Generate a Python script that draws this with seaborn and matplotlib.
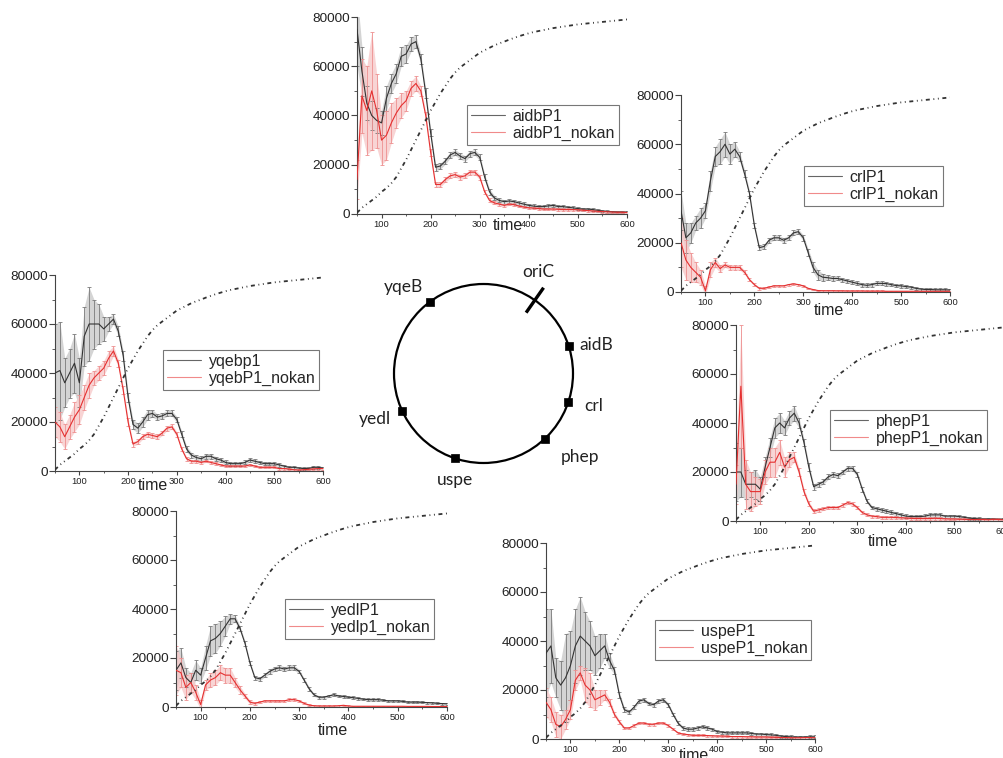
import matplotlib
matplotlib.use("Agg")
import matplotlib.pyplot as plt
import seaborn as sns
from matplotlib.patches import Circle
from matplotlib.ticker import MultipleLocator
import numpy as np

# ---- data ----
time = [50, 60, 70, 80, 90, 100, 110, 120, 130, 140,
        150, 160, 170, 180, 190, 200, 210, 220, 230, 240,
        250, 260, 270, 280, 290, 300, 310, 320, 330, 340,
        350, 360, 370, 380, 390, 400, 410, 420, 430, 440,
        450, 460, 470, 480, 490, 500, 510, 520, 530, 540,
        550, 560, 570, 580, 590, 600]

growth = [500, 2500, 4000, 5500, 7000, 9000, 10500, 12500, 15000, 18500,
          22000, 26000, 30000, 34000, 38000, 42000, 45500, 49000, 52000, 55000,
          57500, 59500, 61000, 62500, 64000, 65500, 66500, 67500, 68500, 69300,
          70000, 70800, 71500, 72200, 72800, 73400, 73900, 74300, 74700, 75100,
          75500, 75800, 76100, 76400, 76700, 77000, 77200, 77400, 77600, 77800,
          78000, 78200, 78400, 78600, 78800, 79000]

aidb_mean = [75000, 58000, 45000, 40000, 38000, 37000, 47000, 53000, 57000, 64000,
             65000, 69000, 70000, 63000, 49000, 33000, 19000, 19500, 21500, 24000,
             25000, 23500, 22500, 24500, 25000, 23000, 15000, 9000, 6500, 5500,
             5000, 5300, 5000, 4500, 4000, 3500, 3200, 3000, 3000, 3300,
             3500, 3000, 3000, 2700, 2500, 2200, 2000, 2000, 1800, 1500,
             1200, 1000, 900, 800, 800, 700]
aidb_err = [15000, 10000, 7000, 6000, 5000, 5000, 5000, 4000, 4000, 4000,
            3500, 3000, 2500, 2000, 2000, 1500, 1500, 1200, 1200, 1200,
            1200, 1200, 1200, 1200, 1200, 1200, 1200, 1200, 1000, 800,
            800, 800, 800, 800, 700, 700, 700, 700, 700, 700,
            700, 700, 600, 600, 600, 600, 600, 500, 500, 500,
            500, 500, 500, 500, 500, 500]
aidb_nokan_mean = [14000, 48000, 42000, 50000, 42000, 30000, 32000, 37000, 41000, 44000,
                   46000, 51000, 53000, 50000, 40000, 25000, 12000, 12000, 14000, 15500,
                   16000, 15000, 15500, 17000, 17000, 15000, 9000, 5500, 4500, 4000,
                   3500, 4000, 3800, 3200, 2800, 2500, 2400, 2200, 2000, 2000,
                   2000, 1900, 1800, 1800, 1800, 1700, 1500, 1400, 1200, 1100,
                   1000, 900, 800, 700, 700, 600]
aidb_nokan_err = [8000, 15000, 18000, 24000, 15000, 10000, 10000, 8000, 6000, 5000,
                  4000, 3000, 3000, 2000, 1500, 1500, 1000, 1000, 1000, 1000,
                  1000, 1000, 1000, 1000, 1000, 1000, 800, 800, 600, 600,
                  600, 500, 500, 500, 500, 500, 500, 500, 500, 500,
                  500, 500, 500, 500, 400, 400, 400, 400, 400, 400,
                  400, 400, 400, 400, 400, 400]

crl_mean = [33000, 22000, 24000, 28000, 30000, 33000, 45000, 55000, 57000, 60000,
            56000, 58000, 55000, 48000, 40000, 27000, 18000, 18500, 21000, 22000,
            22000, 21000, 22000, 24000, 24500, 22000, 16000, 10000, 7000, 6000,
            5800, 5500, 5500, 5000, 4500, 4000, 3500, 3000, 2700, 3000,
            3500, 3500, 3400, 3000, 2600, 2500, 2200, 2000, 1500, 1200,
            1000, 1000, 900, 900, 900, 800]
crl_err = [8000, 6000, 4000, 3000, 4000, 3000, 4000, 4000, 5000, 5000,
           4000, 3000, 2000, 1500, 1200, 1200, 1000, 1000, 1000, 1000,
           1000, 1000, 1000, 1000, 1000, 1200, 1500, 2000, 2000, 1500,
           1000, 1000, 800, 800, 800, 800, 800, 800, 800, 800,
           800, 800, 800, 700, 700, 700, 700, 600, 600, 600,
           600, 600, 600, 600, 600, 600]
crl_nokan_mean = [20000, 13000, 10000, 8000, 6000, 500, 9000, 12000, 9500, 11000,
                  10000, 10000, 10000, 8000, 5000, 3000, 1500, 1500, 2000, 2500,
                  2500, 2500, 3000, 3300, 3000, 2500, 1500, 1000, 600, 500,
                  500, 500, 450, 450, 400, 400, 400, 400, 350, 350,
                  350, 350, 300, 300, 300, 300, 300, 300, 300, 300,
                  300, 300, 300, 300, 300, 300]
crl_nokan_err = [10000, 8000, 6000, 4000, 3000, 2000, 3000, 2000, 1500, 1000,
                 1000, 1000, 1000, 800, 600, 500, 500, 400, 400, 400,
                 400, 400, 400, 400, 400, 400, 300, 300, 300, 300,
                 300, 300, 300, 300, 300, 300, 300, 300, 300, 300,
                 300, 300, 300, 300, 300, 300, 300, 300, 300, 300,
                 300, 300, 300, 300, 300, 300]

yqeb_mean = [40000, 41000, 36000, 40000, 44000, 36000, 55000, 60000, 60000, 60000,
             58000, 60000, 62000, 57000, 47000, 30000, 19000, 17500, 20000, 23000,
             23500, 22000, 22500, 23500, 23500, 21000, 15000, 9000, 6500, 5500,
             5000, 6000, 6000, 5000, 4500, 3500, 3000, 3000, 3000, 3500,
             4500, 4000, 3500, 3000, 3000, 3000, 2500, 2000, 1500, 1500,
             1200, 1000, 1000, 1500, 1500, 1200]
yqeb_err = [20000, 20000, 10000, 10000, 12000, 10000, 12000, 15000, 10000, 8000,
            5000, 3000, 2000, 2000, 2000, 2000, 2000, 2000, 2000, 2000,
            1500, 1200, 1200, 1200, 1200, 1200, 1200, 1200, 1000, 1000,
            1000, 1000, 900, 900, 800, 800, 800, 800, 800, 800,
            800, 800, 700, 700, 700, 700, 700, 600, 600, 600,
            600, 600, 600, 600, 600, 600]
yqeb_nokan_mean = [20000, 18000, 14000, 18000, 22000, 25000, 30000, 35000, 38000, 40000,
                   42000, 46000, 49000, 44000, 33000, 20000, 11000, 12000, 14000, 15000,
                   14500, 14000, 15500, 17500, 18000, 15000, 9000, 5000, 4000, 4000,
                   3500, 4000, 3500, 3000, 2500, 2000, 2000, 2000, 2000, 2000,
                   2500, 2000, 1500, 1500, 1500, 1500, 1000, 1000, 800, 500,
                   400, 500, 700, 800, 1000, 1000]
yqeb_nokan_err = [6000, 6000, 5000, 5000, 6000, 6000, 5000, 5000, 3000, 3000,
                  3000, 3000, 2000, 1500, 1500, 1500, 1000, 1000, 1000, 1000,
                  1000, 1000, 1000, 1000, 1000, 1000, 800, 800, 600, 600,
                  500, 500, 500, 500, 500, 500, 500, 500, 500, 500,
                  500, 500, 400, 400, 400, 400, 400, 400, 400, 400,
                  400, 400, 400, 400, 400, 400]

phep_mean = [20000, 20000, 15000, 15000, 15000, 13000, 22000, 30000, 38000, 40000,
             38000, 42000, 44000, 40000, 32000, 22000, 14000, 15000, 16000, 18000,
             19000, 18500, 20000, 21500, 21500, 19000, 13000, 8000, 5500, 5000,
             4500, 4000, 3500, 3000, 2500, 2000, 1800, 1800, 1800, 2000,
             2500, 2500, 2500, 2000, 2000, 2000, 1800, 1500, 1200, 1000,
             900, 800, 800, 800, 700, 700]
phep_err = [12000, 10000, 6000, 5000, 6000, 5000, 4000, 4000, 4000, 4000,
            3000, 3000, 3000, 2000, 1500, 1500, 1200, 1000, 1000, 1000,
            1000, 1000, 1000, 1000, 1000, 1000, 1000, 800, 800, 800,
            800, 800, 800, 800, 700, 700, 700, 700, 700, 700,
            700, 700, 700, 600, 600, 600, 600, 600, 600, 600,
            600, 600, 600, 600, 600, 600]
phep_nokan_mean = [15000, 55000, 15000, 12000, 12000, 12000, 20000, 24000, 24000, 28000,
                   22000, 25000, 26000, 20000, 12000, 7000, 4000, 4500, 5000, 5500,
                   5500, 5500, 6500, 7500, 7000, 5500, 3500, 2500, 2000, 1800,
                   1500, 1500, 1500, 1400, 1300, 1200, 1100, 1000, 1000, 1000,
                   1000, 1100, 1000, 900, 800, 800, 700, 700, 600, 600,
                   600, 600, 500, 700, 600, 500]
phep_nokan_err = [8000, 25000, 10000, 8000, 6000, 5000, 5000, 6000, 6000, 5000,
                  4000, 3000, 2000, 1500, 1200, 1000, 800, 700, 700, 700,
                  700, 700, 700, 700, 700, 700, 600, 600, 600, 500,
                  500, 500, 500, 500, 500, 500, 500, 500, 500, 500,
                  500, 500, 500, 500, 500, 500, 500, 500, 500, 500,
                  500, 500, 500, 500, 500, 500]

yedl_mean = [15000, 18000, 12000, 10000, 15000, 13000, 20000, 27000, 28000, 30000,
             33000, 36000, 36000, 32000, 26000, 18000, 12000, 11500, 13000, 14500,
             15500, 16000, 15500, 16000, 16000, 14500, 11000, 7500, 5000, 4000,
             4000, 4500, 5000, 4500, 4300, 4000, 3800, 3500, 3200, 3000,
             3000, 3000, 2800, 2500, 2500, 2500, 2300, 2000, 2000, 2000,
             1900, 1800, 1700, 1500, 1400, 1300]
yedl_err = [8000, 6000, 4000, 4000, 4000, 3000, 5000, 6000, 6000, 5000,
            4000, 2000, 1500, 1000, 1000, 800, 800, 800, 800, 1000,
            1000, 1000, 1000, 1000, 1000, 800, 800, 800, 600, 600,
            600, 600, 600, 600, 500, 500, 500, 500, 500, 500,
            500, 500, 500, 500, 500, 500, 400, 400, 400, 400,
            400, 400, 400, 400, 400, 400]
yedl_nokan_mean = [15000, 14000, 8000, 10000, 6000, 1000, 9000, 11000, 12000, 14000,
                   13000, 13000, 10000, 7000, 4500, 2000, 1500, 2000, 2500, 2500,
                   2500, 2500, 2500, 3000, 3000, 2500, 1500, 800, 500, 400,
                   400, 400, 400, 500, 700, 400, 300, 300, 300, 300,
                   300, 300, 300, 300, 300, 300, 300, 250, 250, 250,
                   250, 250, 200, 200, 200, 200]
yedl_nokan_err = [10000, 6000, 5000, 4000, 3000, 2000, 2000, 3000, 3000, 3000,
                  3000, 3000, 2000, 1500, 1000, 800, 600, 500, 500, 500,
                  500, 500, 500, 500, 500, 500, 400, 400, 300, 300,
                  300, 300, 300, 300, 300, 300, 300, 300, 300, 300,
                  300, 300, 300, 300, 300, 300, 300, 300, 300, 300,
                  300, 300, 300, 300, 300, 300]

uspe_mean = [35000, 38000, 25000, 22000, 25000, 30000, 38000, 42000, 40000, 38000,
             34000, 36000, 38000, 32000, 28000, 18000, 12000, 11000, 13000, 15500,
             16000, 14500, 14000, 15500, 16000, 14000, 10000, 6500, 4500, 4000,
             4000, 4500, 5000, 4500, 4000, 3000, 2800, 2500, 2500, 2500,
             2500, 2500, 2300, 2000, 2000, 1800, 1700, 1500, 1200, 1000,
             900, 800, 800, 800, 900, 900]
uspe_err = [18000, 15000, 8000, 10000, 18000, 14000, 15000, 16000, 12000, 10000,
            8000, 7000, 5000, 3000, 1500, 1200, 1000, 800, 800, 800,
            800, 800, 800, 800, 800, 800, 800, 700, 700, 700,
            700, 700, 700, 700, 600, 600, 600, 600, 600, 600,
            600, 600, 600, 600, 600, 600, 600, 600, 600, 600,
            600, 600, 600, 600, 600, 600]
uspe_nokan_mean = [15000, 12000, 6000, 5000, 8000, 12000, 24000, 27000, 22000, 20000,
                   16000, 17000, 18000, 15000, 10000, 7000, 4500, 4500, 5500, 6500,
                   6500, 6000, 6000, 6500, 6500, 5500, 4000, 2500, 2000, 1800,
                   1500, 1500, 1500, 1400, 1300, 1200, 1200, 1100, 1000, 1000,
                   1000, 900, 900, 800, 800, 800, 700, 700, 600, 600,
                   500, 500, 500, 600, 600, 500]
uspe_nokan_err = [6000, 5000, 5000, 5000, 4000, 4000, 4000, 3000, 7000, 7000,
                  4000, 3000, 2000, 1500, 1000, 800, 600, 500, 500, 500,
                  500, 500, 500, 500, 500, 500, 400, 400, 400, 400,
                  400, 400, 400, 400, 400, 400, 400, 400, 400, 400,
                  400, 400, 400, 400, 400, 400, 400, 400, 400, 400,
                  400, 400, 400, 400, 400, 400]

genes = ["yqeB", "aidB", "crl", "phep", "uspe", "yedl"]
gene_angles = [127, 17.6, -18.6, -46.7, -108.8, 204.7]
origin_angle = 55

# ---- figure ----
sns.set_style("white")
plt.rcParams["font.family"] = ["Liberation Sans", "DejaVu Sans"]

W, H = 1004, 758
fig = plt.figure(figsize=(W / 100, H / 100), dpi=100)


def draw_panel(box, series, names, legend_xy, label_xy):
    mean, err, nk_mean, nk_err = series
    x0, x1, ytop, ybot = box
    ax = fig.add_axes([x0 / W, (H - ybot) / H, (x1 - x0) / W, (ybot - ytop) / H])
    ax.patch.set_alpha(0)
    m, e = np.array(mean), np.array(err)
    nm, ne = np.array(nk_mean), np.array(nk_err)
    # the dense error bars of the original read as a light band
    ax.fill_between(time, m - e, m + e, color="#d4d4d4", lw=0, zorder=1)
    ax.fill_between(time, nm - ne, nm + ne, color="#f7caca", alpha=0.8, lw=0, zorder=1)
    ax.errorbar(time, mean, yerr=err, fmt="none", ecolor="#7a7a7a",
                elinewidth=0.6, capsize=1.5, capthick=0.6, zorder=2)
    ax.errorbar(time, nk_mean, yerr=nk_err, fmt="none", ecolor="#ee9090",
                elinewidth=0.6, capsize=1.5, capthick=0.6, zorder=2)
    sns.lineplot(x=time, y=mean, ax=ax, color="#333333", lw=0.8, label=names[0], zorder=3)
    sns.lineplot(x=time, y=nk_mean, ax=ax, color="#e53030", lw=0.8, label=names[1], zorder=3)
    sns.lineplot(x=time, y=growth, ax=ax, color="#333333", lw=1.3,
                 linestyle=(0, (2.2, 2.0, 0.5, 2.0, 0.5, 2.0)), zorder=4)
    ax.set_xlim(50, 600)
    ax.set_ylim(0, 80000)
    ax.set_yticks([0, 20000, 40000, 60000, 80000])
    ax.set_xticks([100, 200, 300, 400, 500, 600])
    ax.yaxis.set_minor_locator(MultipleLocator(10000))
    ax.xaxis.set_minor_locator(MultipleLocator(50))
    sns.despine(ax=ax)
    for s in ("left", "bottom"):
        ax.spines[s].set_color("#444444")
        ax.spines[s].set_linewidth(0.8)
    ax.tick_params(axis="y", which="major", length=4, width=0.8, labelsize=9.7,
                   pad=1, colors="#444444", labelcolor="#222222", left=True)
    ax.tick_params(axis="y", which="minor", length=2, width=0.6, left=True, colors="#444444")
    ax.tick_params(axis="x", which="major", length=3, width=0.8, labelsize=6.8,
                   pad=1, colors="#444444", labelcolor="#222222", bottom=True)
    ax.tick_params(axis="x", which="minor", length=1.5, width=0.6, bottom=True, colors="#444444")
    ax.set_ylabel("")
    ax.set_xlabel("time", fontsize=11.5, color="#222222")
    ax.xaxis.set_label_coords(*label_xy)
    lx, ly = legend_xy
    leg = ax.legend(loc="upper left", bbox_to_anchor=(lx / W, 1 - ly / H),
                    bbox_transform=fig.transFigure, frameon=True, fancybox=False,
                    edgecolor="#777777", framealpha=1, fontsize=11.5, handlelength=2.1,
                    borderpad=0.25, labelspacing=0.12, handletextpad=0.5, borderaxespad=0)
    leg.get_frame().set_linewidth(0.8)
    leg.get_lines()[0].set_color("#666666")
    leg.get_lines()[1].set_color("#f08a8a")
    return ax


draw_panel((357, 627, 17, 214), (aidb_mean, aidb_err, aidb_nokan_mean, aidb_nokan_err),
           ("aidbP1", "aidbP1_nokan"), (467, 105), (0.56, -0.02))
draw_panel((681, 950, 95, 292), (crl_mean, crl_err, crl_nokan_mean, crl_nokan_err),
           ("crlP1", "crlP1_nokan"), (804, 166), (0.55, -0.055))
draw_panel((55, 323, 275, 471), (yqeb_mean, yqeb_err, yqeb_nokan_mean, yqeb_nokan_err),
           ("yqebp1", "yqebP1_nokan"), (163, 350), (0.366, -0.035))
draw_panel((736, 1003, 325, 521), (phep_mean, phep_err, phep_nokan_mean, phep_nokan_err),
           ("phepP1", "phepP1_nokan"), (830, 410), (0.55, -0.065))
draw_panel((176, 447, 511, 707), (yedl_mean, yedl_err, yedl_nokan_mean, yedl_nokan_err),
           ("yedlP1", "yedlp1_nokan"), (285, 599), (0.58, -0.08))
draw_panel((546, 815, 543, 739), (uspe_mean, uspe_err, uspe_nokan_mean, uspe_nokan_err),
           ("uspeP1", "uspeP1_nokan"), (655, 620), (0.55, -0.045))

# ---- chromosome map ----
cx, cy, r = 483.5, 373.5, 89.5
half = 140
cax = fig.add_axes([(cx - half) / W, (H - cy - half) / H, 2 * half / W, 2 * half / H])
lim = half / r
cax.set_xlim(-lim, lim)
cax.set_ylim(-lim, lim)
cax.axis("off")
cax.patch.set_alpha(0)
cax.add_patch(Circle((0, 0), 1, fill=False, lw=1.6, color="black"))

ang = np.radians(gene_angles)
sns.scatterplot(x=np.cos(ang), y=np.sin(ang), ax=cax, marker="s", s=40,
                color="black", edgecolor="black", zorder=3)
oa = np.radians(origin_angle)
cax.plot([0.83 * np.cos(oa), 1.17 * np.cos(oa)], [0.83 * np.sin(oa), 1.17 * np.sin(oa)],
         color="black", lw=2.4, solid_capstyle="butt")

label_pos = {"oriC": (0.609, 1.134), "yqeB": (-0.900, 0.967), "aidB": (1.257, 0.318),
             "crl": (1.235, -0.363), "phep": (1.078, -0.933), "uspe": (-0.318, -1.19),
             "yedl": (-1.212, -0.508)}
for name in ["oriC"] + genes:
    px, py = label_pos[name]
    cax.text(px, py, name, ha="center", va="center", fontsize=12.5,
             family=["Lato", "DejaVu Sans"], color="#222222")

fig.savefig("out.png", dpi=100)
